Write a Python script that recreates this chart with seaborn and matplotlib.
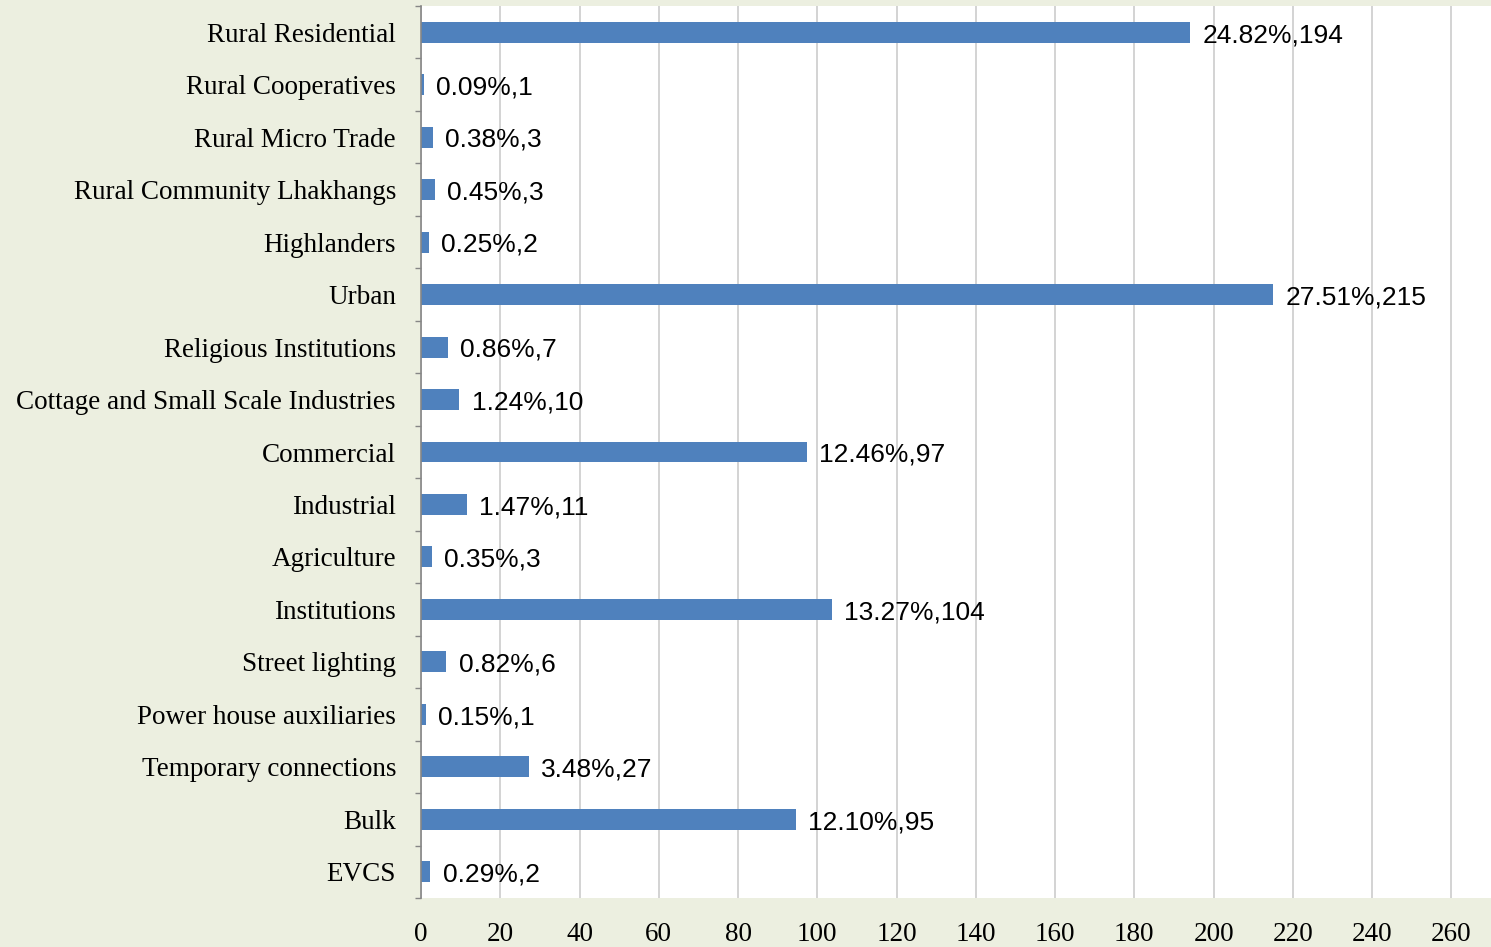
import matplotlib
matplotlib.use('Agg')
import matplotlib.pyplot as plt
import seaborn as sns
import numpy as np

categories = ['Rural Residential', 'Rural Cooperatives', 'Rural Micro Trade',
              'Rural Community Lhakhangs', 'Highlanders', 'Urban',
              'Religious Institutions', 'Cottage and Small Scale Industries',
              'Commercial', 'Industrial', 'Agriculture', 'Institutions',
              'Street lighting', 'Power house auxiliaries',
              'Temporary connections', 'Bulk', 'EVCS']
values = [194.0, 0.7, 3.0, 3.5, 2.0, 215.0, 6.7, 9.7, 97.4, 11.5, 2.7,
          103.7, 6.4, 1.2, 27.2, 94.6, 2.3]
bar_labels = ['24.82%,194', '0.09%,1', '0.38%,3', '0.45%,3', '0.25%,2',
              '27.51%,215', '0.86%,7', '1.24%,10', '12.46%,97', '1.47%,11',
              '0.35%,3', '13.27%,104', '0.82%,6', '0.15%,1', '3.48%,27',
              '12.10%,95', '0.29%,2']
x_ticks = list(range(0, 261, 20))

bg = '#ECEFE0'
fig = plt.figure(figsize=(14.91, 9.47), dpi=100, facecolor=bg)
ax = fig.add_axes([421/1491, 49/947, 1 - 421/1491, (898 - 6)/947])
ax.set_facecolor('white')

sns.barplot(x=values, y=categories, orient='h', color='#4F81BD',
            saturation=1, width=0.4, ax=ax)

anns = ax.bar_label(ax.containers[0], labels=bar_labels, padding=9,
                    fontsize=19, family='Liberation Sans', color='black')
# nudge the labels down a touch, like the original
for a in anns:
    a.xyann = (9, -2)

ax.set_xlim(0, 270)
ax.set_ylim(len(categories) - 0.5, -0.5)
ax.set_xticks(x_ticks)
ax.set_xticklabels([str(t) for t in x_ticks], family='Liberation Serif', fontsize=19.5)
ax.set_yticks(range(len(categories)))
ax.set_yticklabels(categories, family='Liberation Serif', fontsize=19.5)
ax.set_yticks(np.arange(-0.5, len(categories), 1), minor=True)
ax.tick_params(axis='y', which='major', length=0, pad=18)
ax.tick_params(axis='y', which='minor', length=4, color='#868686', width=1)
ax.tick_params(axis='x', length=0, pad=17)
ax.set_xlabel('')
ax.set_ylabel('')

ax.set_axisbelow(True)
ax.xaxis.grid(True, color='#CCCCCC', linewidth=1.2)
ax.yaxis.grid(False)
for s in ['top', 'right', 'bottom']:
    ax.spines[s].set_visible(False)
ax.spines['left'].set_color('#868686')
ax.spines['left'].set_linewidth(1.2)

fig.savefig('out.png', dpi=100, facecolor=bg)
